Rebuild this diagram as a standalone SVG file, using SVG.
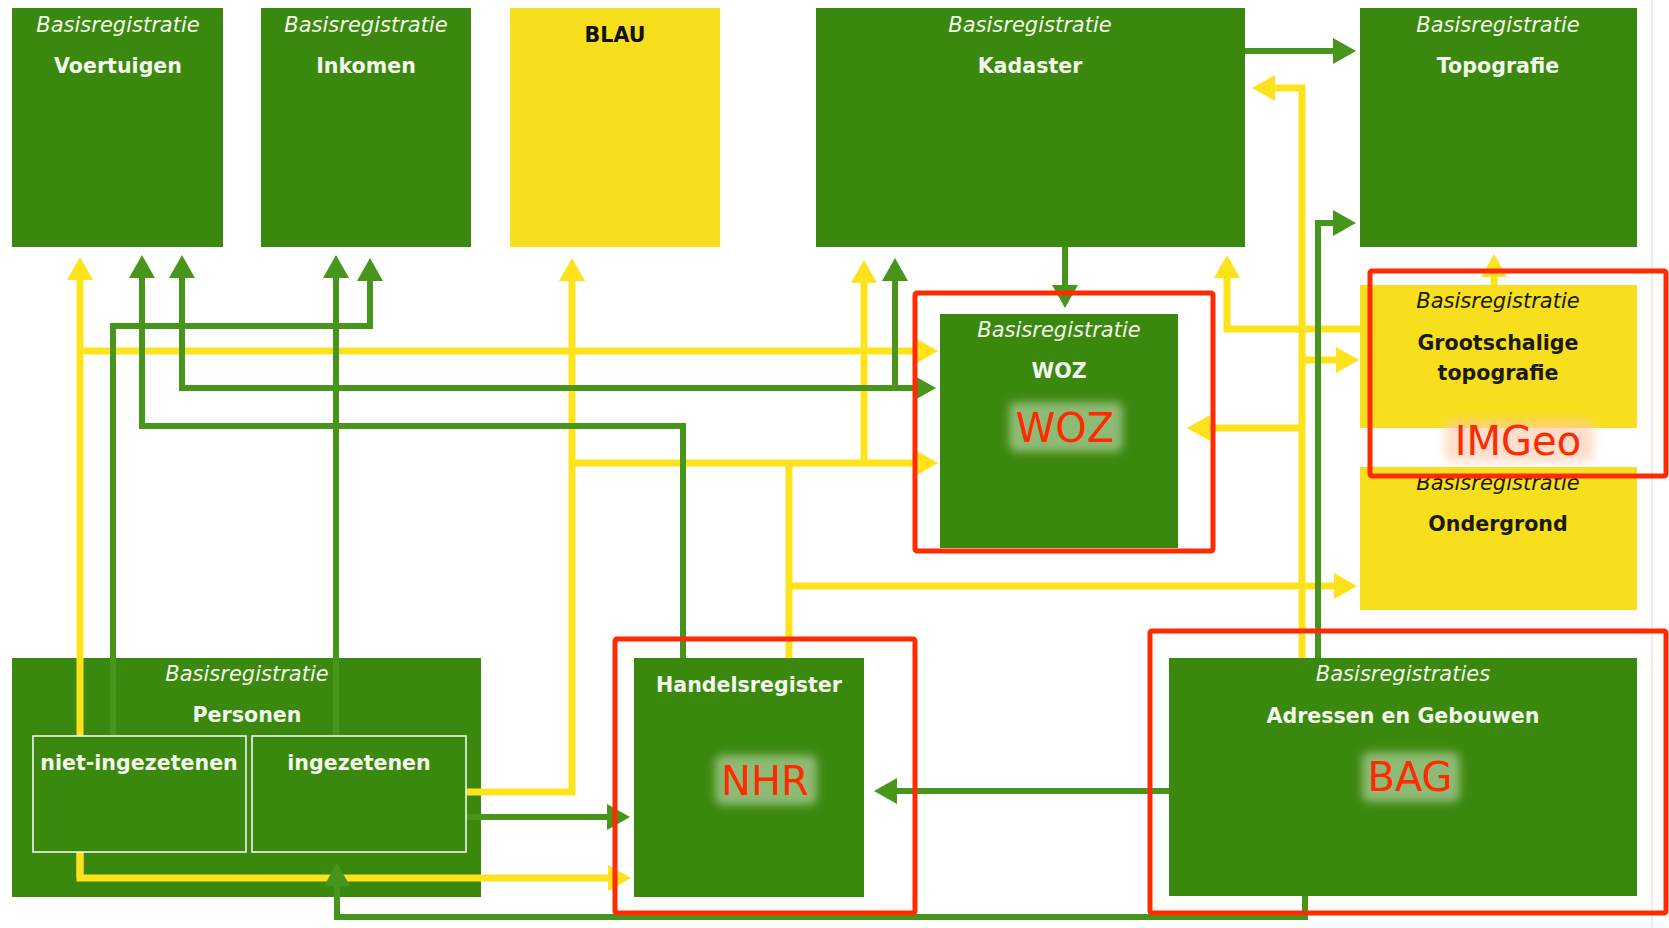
<svg xmlns="http://www.w3.org/2000/svg" width="1669" height="928" viewBox="0 0 1669 928">
<style>
.gbox{fill:#3b880f}
.ybox{fill:#f7df1e}
.sub{fill:#3b880f;stroke:#f2f6ee;stroke-width:1.6}
.it{font-family:"DejaVu Sans",sans-serif;font-style:italic;font-size:21px;text-anchor:middle}
.bd{font-family:"DejaVu Sans",sans-serif;font-weight:bold;font-size:20.6px;text-anchor:middle}
.w{fill:#f3f7ec}
.k{fill:#1a1a05}
.cy{fill:none;stroke:#fde21c;stroke-width:7}
.cg{fill:none;stroke:#47951a;stroke-width:6}
.hl{fill:none;stroke:#ff2a00;stroke-width:5}
.rl{font-family:"DejaVu Sans",sans-serif;font-size:40px;fill:#ff2a00;text-anchor:middle}
.glow{fill:#ffffff;fill-opacity:0.42;filter:url(#blur)}
</style>
<defs>
<filter id="blur" x="-30%" y="-60%" width="160%" height="220%"><feGaussianBlur stdDeviation="4"/></filter>
<marker id="ay" markerUnits="userSpaceOnUse" markerWidth="24" markerHeight="28" refX="0" refY="14" orient="auto" viewBox="0 0 24 28"><path d="M0,1 L23,14 L0,27 z" fill="#fde21c"/></marker>
<marker id="ag" markerUnits="userSpaceOnUse" markerWidth="24" markerHeight="28" refX="0" refY="14" orient="auto" viewBox="0 0 24 28"><path d="M0,1 L23,14 L0,27 z" fill="#47951a"/></marker>
</defs>
<rect width="1669" height="928" fill="#ffffff"/>
<line x1="1652" y1="0" x2="1652" y2="928" stroke="#ececec" stroke-width="2"/>

<g id="voertuigen">
<rect class="gbox" x="12" y="8" width="211" height="239"/>
<text class="it w" x="118" y="32">Basisregistratie</text>
<text class="bd w" x="118" y="73">Voertuigen</text>
</g>
<g id="inkomen">
<rect class="gbox" x="261" y="8" width="210" height="239"/>
<text class="it w" x="366" y="32">Basisregistratie</text>
<text class="bd w" x="366" y="73">Inkomen</text>
</g>
<g id="blau">
<rect class="ybox" x="510" y="8" width="210" height="239"/>
<text class="bd" x="615" y="42" fill="#111111">BLAU</text>
</g>
<g id="kadaster">
<rect class="gbox" x="816" y="8" width="429" height="239"/>
<text class="it w" x="1030" y="32">Basisregistratie</text>
<text class="bd w" x="1030" y="73">Kadaster</text>
</g>
<g id="topografie">
<rect class="gbox" x="1360" y="8" width="277" height="239"/>
<text class="it w" x="1498" y="32">Basisregistratie</text>
<text class="bd w" x="1498" y="73">Topografie</text>
</g>
<g id="woz">
<rect class="gbox" x="940" y="314" width="238" height="234"/>
<text class="it w" x="1059" y="337">Basisregistratie</text>
<text class="bd w" x="1059" y="378">WOZ</text>
</g>
<g id="grootschalige-topografie">
<rect class="ybox" x="1360" y="285" width="277" height="143"/>
<text class="it k" x="1498" y="308">Basisregistratie</text>
<text class="bd k" x="1498" y="350">Grootschalige</text>
<text class="bd k" x="1498" y="380">topografie</text>
</g>
<g id="ondergrond">
<rect class="ybox" x="1360" y="467" width="277" height="143"/>
<text class="it k" x="1498" y="490">Basisregistratie</text>
<text class="bd k" x="1498" y="531">Ondergrond</text>
</g>
<g id="personen">
<rect class="gbox" x="12" y="658" width="469" height="239"/>
<text class="it w" x="247" y="681">Basisregistratie</text>
<text class="bd w" x="247" y="722">Personen</text>
</g>
<g id="handelsregister">
<rect class="gbox" x="634" y="658" width="230" height="239"/>
<text class="bd w" x="749" y="692">Handelsregister</text>
</g>
<g id="bag">
<rect class="gbox" x="1169" y="658" width="468" height="238"/>
<text class="it w" x="1403" y="681">Basisregistraties</text>
<text class="bd w" x="1403" y="723">Adressen en Gebouwen</text>
</g>

<g id="connectors">
<path class="cy" d="M80,878 V280" marker-end="url(#ay)"/>
<path class="cy" d="M80,852 V878 H608" marker-end="url(#ay)"/>
<path class="cy" d="M80,351 H915" marker-end="url(#ay)"/>
<path class="cy" d="M466,792 H572 V281" marker-end="url(#ay)"/>
<path class="cy" d="M572,463 H915" marker-end="url(#ay)"/>
<path class="cy" d="M864,463 V283" marker-end="url(#ay)"/>
<path class="cy" d="M789,658 V463"/>
<path class="cy" d="M789,586 H1334" marker-end="url(#ay)"/>
<path class="cy" d="M1302,658 V88 H1275" marker-end="url(#ay)"/>
<path class="cy" d="M1302,360 H1336" marker-end="url(#ay)"/>
<path class="cy" d="M1302,428 H1210" marker-end="url(#ay)"/>
<path class="cy" d="M1360,329 H1227 V278" marker-end="url(#ay)"/>
<path class="cy" d="M1494,285 V277" marker-end="url(#ay)"/>

<path class="cg" d="M1245,51 H1333" marker-end="url(#ag)"/>
<path class="cg" d="M1318,658 V223 H1333" marker-end="url(#ag)"/>
<path class="cg" d="M1065,247 V285" marker-end="url(#ag)"/>
<path class="cg" d="M683,658 V426 H142 V278" marker-end="url(#ag)"/>
<path class="cg" d="M895,388 H182 V278" marker-end="url(#ag)"/>
<path class="cg" d="M182,388 H913" marker-end="url(#ag)"/>
<path class="cg" d="M895,388 V281" marker-end="url(#ag)"/>
<path class="cg" d="M113,736 V326 H370 V281" marker-end="url(#ag)"/>
<path class="cg" d="M336,736 V278" marker-end="url(#ag)"/>
<path class="cg" d="M466,817 H607" marker-end="url(#ag)"/>
<path class="cg" d="M1169,791 H897" marker-end="url(#ag)"/>
<path class="cg" d="M1305,896 V917 H337 V886" marker-end="url(#ag)"/>
</g>

<g id="niet-ingezetenen">
<rect class="sub" x="33" y="736" width="213" height="116"/>
<text class="bd w" x="139" y="770">niet-ingezetenen</text>
</g>
<g id="ingezetenen">
<rect class="sub" x="252" y="736" width="214" height="116"/>
<text class="bd w" x="359" y="770">ingezetenen</text>
</g>

<g id="highlight-woz">
<rect class="hl" x="915" y="293" width="298" height="258" rx="2"/>
<rect class="glow" x="1009" y="402" width="114" height="50" rx="8"/>
<text class="rl" x="1065" y="442">WOZ</text>
</g>
<g id="highlight-nhr">
<rect class="hl" x="615" y="639" width="300" height="274" rx="2"/>
<rect class="glow" x="715" y="755" width="102" height="50" rx="8"/>
<text class="rl" x="765" y="795">NHR</text>
</g>
<g id="highlight-bag">
<rect class="hl" x="1150" y="631" width="516" height="282" rx="2"/>
<rect class="glow" x="1362" y="752" width="98" height="50" rx="8"/>
<text class="rl" x="1410" y="791">BAG</text>
</g>
<g id="highlight-imgeo">
<rect class="hl" x="1370" y="271" width="296" height="205" rx="2"/>
<rect x="1445" y="420" width="149" height="42" rx="8" fill="#ffc9a8" fill-opacity="0.6" filter="url(#blur)"/>
<text class="rl" x="1518" y="455" font-size="42">IMGeo</text>
</g>
</svg>
